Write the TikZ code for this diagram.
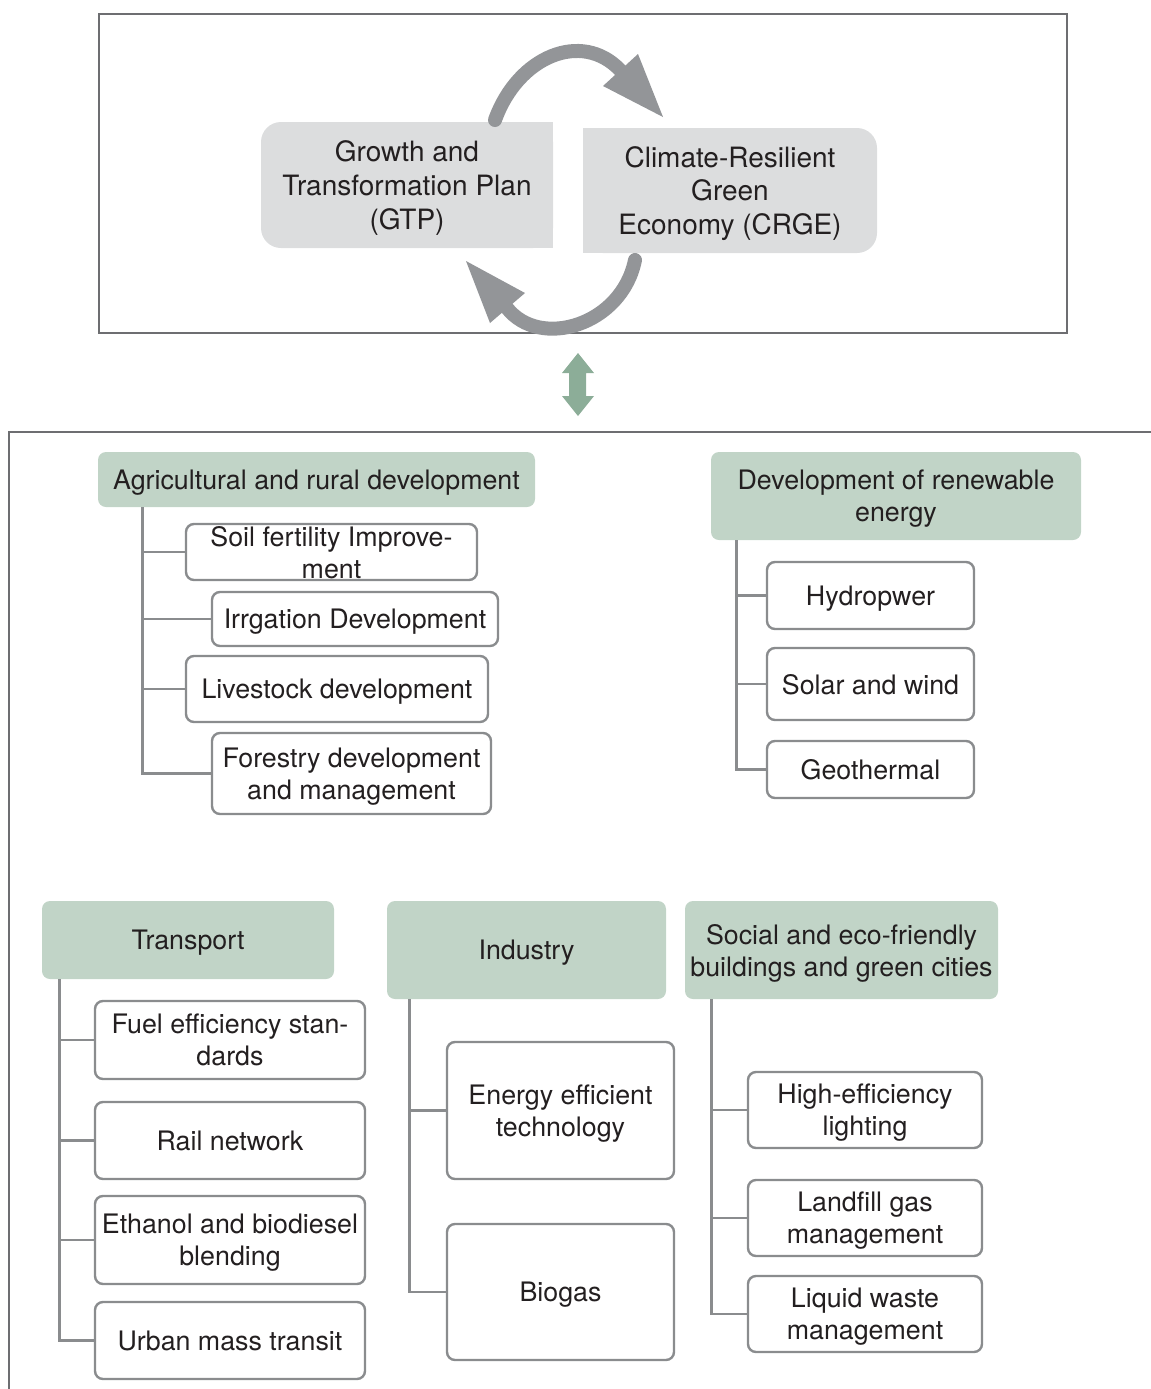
\documentclass[tikz,border=0pt]{standalone}
\usepackage{fontspec}
\setmainfont{TeX Gyre Heros}
\definecolor{txt}{HTML}{231F20}
\definecolor{gbox}{HTML}{DCDDDE}
\definecolor{garrow}{HTML}{939598}
\definecolor{hdr}{HTML}{C1D4C7}
\definecolor{darrow}{HTML}{8CAD98}
\definecolor{bline}{HTML}{8A8C8E}
\definecolor{fline}{HTML}{6D6E71}
\begin{document}
\begin{tikzpicture}[x=0.5pt,y=-0.5pt,
  every node/.style={font=\fontsize{13.4}{16}\selectfont, text=txt, align=center, inner sep=0pt, text depth=0pt},
  topbox/.style={fill=gbox, rounded corners=10pt, font=\fontsize{14}{16.8}\selectfont},
  hdrbox/.style={fill=hdr, rounded corners=4pt},
  itembox/.style={draw=bline, line width=1.2pt, fill=white, rounded corners=4pt},
  conn/.style={draw=bline, line width=1.2pt},
  frame/.style={draw=fline, line width=0.7pt},
  cyc/.style={draw=garrow, line width=7pt, line cap=round}]
\useasboundingbox (0,0) rectangle (1151,1389);

% ---------- top frame ----------
\draw[frame] (99,14) rectangle (1067,333);
\fill[gbox] (420,122) rectangle (553,248);
\node[topbox, minimum width=146pt, minimum height=63pt] (gtp) at (407,185)
  {Growth and\\Transformation Plan\\(GTP)};
\fill[gbox] (583,128) rectangle (700,253);
\node[topbox, minimum width=147pt, minimum height=62.5pt] (crge) at (730,190.5)
  {Climate-Resilient\\Green\\Economy (CRGE)};

% circular arrows
\coordinate (ua) at (495,120);
\coordinate (ub) at (620,70);
\draw[cyc] (ua) .. controls (518,56) and (582,30) .. (ub);
\fill[garrow] (603,86) -- (638,54) -- (663,117) -- cycle;
\coordinate (la) at (635,260);
\coordinate (lb) at (507,308);
\draw[cyc] (la) .. controls (622,325) and (540,350) .. (lb);
\fill[garrow] (490,323) -- (525,293) -- (466,261) -- cycle;

% double arrow
\fill[darrow] (578,353) -- (594,373) -- (586,373) -- (586,396) -- (594,396) -- (578,416)
  -- (562,396) -- (569,396) -- (569,373) -- (562,373) -- cycle;

% ---------- lower frame ----------
\draw[frame] (9,1389) -- (9,432) -- (1151,432);

% Agricultural
\node[hdrbox, minimum width=218.5pt, minimum height=27.5pt] (agri) at (316.5,479.5) {Agricultural and rural development};
\node[itembox, minimum width=145.5pt, minimum height=28pt] (soil) at (331.5,552) {Soil fertility Improve-\\ment};
\node[itembox, minimum width=143pt, minimum height=27pt] (irr) at (355,619) {Irrgation Development};
\node[itembox, minimum width=151pt, minimum height=33pt] (live) at (337,689) {Livestock development};
\node[itembox, minimum width=139.5pt, minimum height=40.5pt] (forest) at (351.5,773.5) {Forestry development\\and management};
\draw[conn] (agri.south west) ++(45,0) |- (forest.west);
\foreach \n in {soil,irr,live} \draw[conn] (agri.south west) ++(45,0) |- (\n.west);

% Renewable
\node[hdrbox, minimum width=185pt, minimum height=44pt] (renew) at (896,496) {Development of renewable\\energy};
\node[itembox, minimum width=103.5pt, minimum height=33.5pt] (hydro) at (870.5,595.5) {Hydropwer};
\node[itembox, minimum width=103.5pt, minimum height=36pt] (solar) at (870.5,684) {Solar and wind};
\node[itembox, minimum width=103.5pt, minimum height=28.5pt] (geo) at (870.5,769.5) {Geothermal};
\foreach \n in {hydro,solar,geo} \draw[conn] (renew.south west) ++(26,0) |- (\n.west);

% Transport
\node[hdrbox, minimum width=146pt, minimum height=39pt] (trans) at (188,940) {Transport};
\node[itembox, minimum width=135pt, minimum height=39pt] (fuel) at (230,1040) {Fuel efficiency stan-\\dards};
\node[itembox, minimum width=135pt, minimum height=38.5pt] (rail) at (230,1140.5) {Rail network};
\node[itembox, minimum width=135pt, minimum height=44pt] (eth) at (230,1240) {Ethanol and biodiesel\\blending};
\node[itembox, minimum width=135pt, minimum height=38.5pt] (urban) at (230,1340.5) {Urban mass transit};
\foreach \n in {fuel,rail,eth,urban} \draw[conn] (trans.south west) ++(18,0) |- (\n.west);

% Industry
\node[hdrbox, minimum width=139.5pt, minimum height=49pt] (ind) at (526.5,950) {Industry};
\node[itembox, minimum width=113.5pt, minimum height=68.5pt] (energy) at (560.5,1110.5) {Energy efficient\\technology};
\node[itembox, minimum width=113.5pt, minimum height=68pt] (biogas) at (560.5,1292) {Biogas};
\foreach \n in {energy,biogas} \draw[conn] (ind.south west) ++(23,0) |- (\n.west);

% Social
\node[hdrbox, minimum width=156.5pt, minimum height=49pt] (soc) at (841.5,950) {Social and eco-friendly\\buildings and green cities};
\node[itembox, minimum width=117pt, minimum height=38pt] (light) at (865,1110) {High-efficiency\\lighting};
\node[itembox, minimum width=117pt, minimum height=38pt] (land) at (865,1218) {Landfill gas\\management};
\node[itembox, minimum width=117pt, minimum height=38pt] (liquid) at (865,1314) {Liquid waste\\management};
\foreach \n in {light,land,liquid} \draw[conn] (soc.south west) ++(27,0) |- (\n.west);
\end{tikzpicture}
\end{document}
